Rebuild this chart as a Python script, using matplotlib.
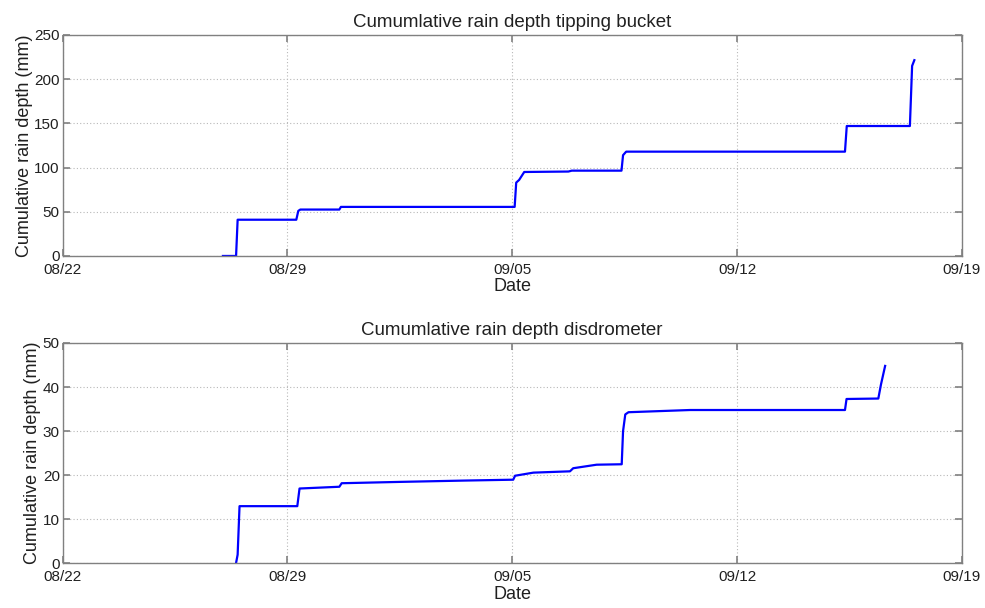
import matplotlib

matplotlib.use("Agg")
import matplotlib.dates as mdates
import matplotlib.pyplot as plt
import pandas as pd

YEAR = "2014"

# tipping bucket cumulative depth (mm)
bucket_times = [
    "08-26 23:50", "08-27 09:40", "08-27 10:50", "08-29 06:40", "08-29 08:10",
    "08-29 09:40", "08-30 14:50", "08-30 16:00", "09-05 01:50", "09-05 03:00",
    "09-05 05:10", "09-05 09:00", "09-06 18:00", "09-06 20:30", "09-08 09:40",
    "09-08 10:50", "09-08 13:10", "09-15 08:40", "09-15 10:00", "09-17 09:10",
    "09-17 10:50", "09-17 12:30",
]
bucket_depth = [
    0, 0, 41, 41, 51,
    52.5, 52.5, 55.5, 55.5, 83,
    86, 95, 95.5, 96.5, 96.5,
    114, 118, 118, 147, 147,
    215, 221.5,
]

# disdrometer cumulative depth (mm)
disdro_times = [
    "08-27 09:35", "08-27 10:50", "08-27 12:15", "08-29 07:25", "08-29 09:05",
    "08-30 14:50", "08-30 16:35", "09-01 12:00", "09-03 12:00", "09-05 00:45",
    "09-05 02:10", "09-05 15:50", "09-06 19:10", "09-06 21:35", "09-07 15:05",
    "09-08 09:50", "09-08 10:50", "09-08 12:30", "09-08 14:55", "09-10 13:00",
    "09-15 08:40", "09-15 09:50", "09-16 09:35", "09-16 11:30", "09-16 14:40",
]
disdro_depth = [
    0, 2, 13, 13, 17,
    17.4, 18.2, 18.5, 18.8, 19.0,
    19.9, 20.6, 20.9, 21.6, 22.4,
    22.5, 30, 33.8, 34.3, 34.8,
    34.8, 37.3, 37.4, 40.5, 44.8,
]

x_start = "08-22 00:00"
x_end = "09-19 00:00"
x_tick_days = ["08-22", "08-29", "09-05", "09-12", "09-19"]

top_ticks = [0, 50, 100, 150, 200, 250]
bottom_ticks = [0, 10, 20, 30, 40, 50]


def to_dates(values):
    return pd.to_datetime([f"{YEAR}-{v}" for v in values])


def style_axes(ax, yticks, title):
    ax.set_xlim(to_dates([x_start])[0], to_dates([x_end])[0])
    ax.set_xticks(to_dates(x_tick_days))
    ax.xaxis.set_major_formatter(mdates.DateFormatter("%m/%d"))
    ax.set_ylim(yticks[0], yticks[-1])
    ax.set_yticks(yticks)
    ax.grid(True, linestyle=(0, (1, 2)), color="#b8b8b8", linewidth=0.8)
    ax.tick_params(direction="in", length=5, width=1.2, color="#808080",
                   top=True, right=True, labelsize=11, labelcolor="#202020", pad=2)
    ax.tick_params(axis="x", pad=5)
    for spine in ax.spines.values():
        spine.set_color("#808080")
        spine.set_linewidth(1.0)
    ax.set_title(title, fontsize=13.5, color="#202020", pad=6)
    ax.set_xlabel("Date", fontsize=13, color="#202020", labelpad=1)
    ax.set_ylabel("Cumulative rain depth (mm)", fontsize=13, color="#202020", labelpad=1)


plt.rcParams["font.family"] = ["Liberation Sans", "DejaVu Sans"]

fig = plt.figure(figsize=(9.85, 6.08), dpi=100)
ax_top = fig.add_axes([0.0635, 0.579, 0.913, 0.3635])
ax_bot = fig.add_axes([0.0635, 0.0732, 0.913, 0.3627])

ax_top.plot(to_dates(bucket_times), bucket_depth, color="#0000ff", linewidth=1.6)
style_axes(ax_top, top_ticks, "Cumumlative rain depth tipping bucket")

ax_bot.plot(to_dates(disdro_times), disdro_depth, color="#0000ff", linewidth=1.6)
style_axes(ax_bot, bottom_ticks, "Cumumlative rain depth disdrometer")

fig.savefig("out.png", dpi=100)
